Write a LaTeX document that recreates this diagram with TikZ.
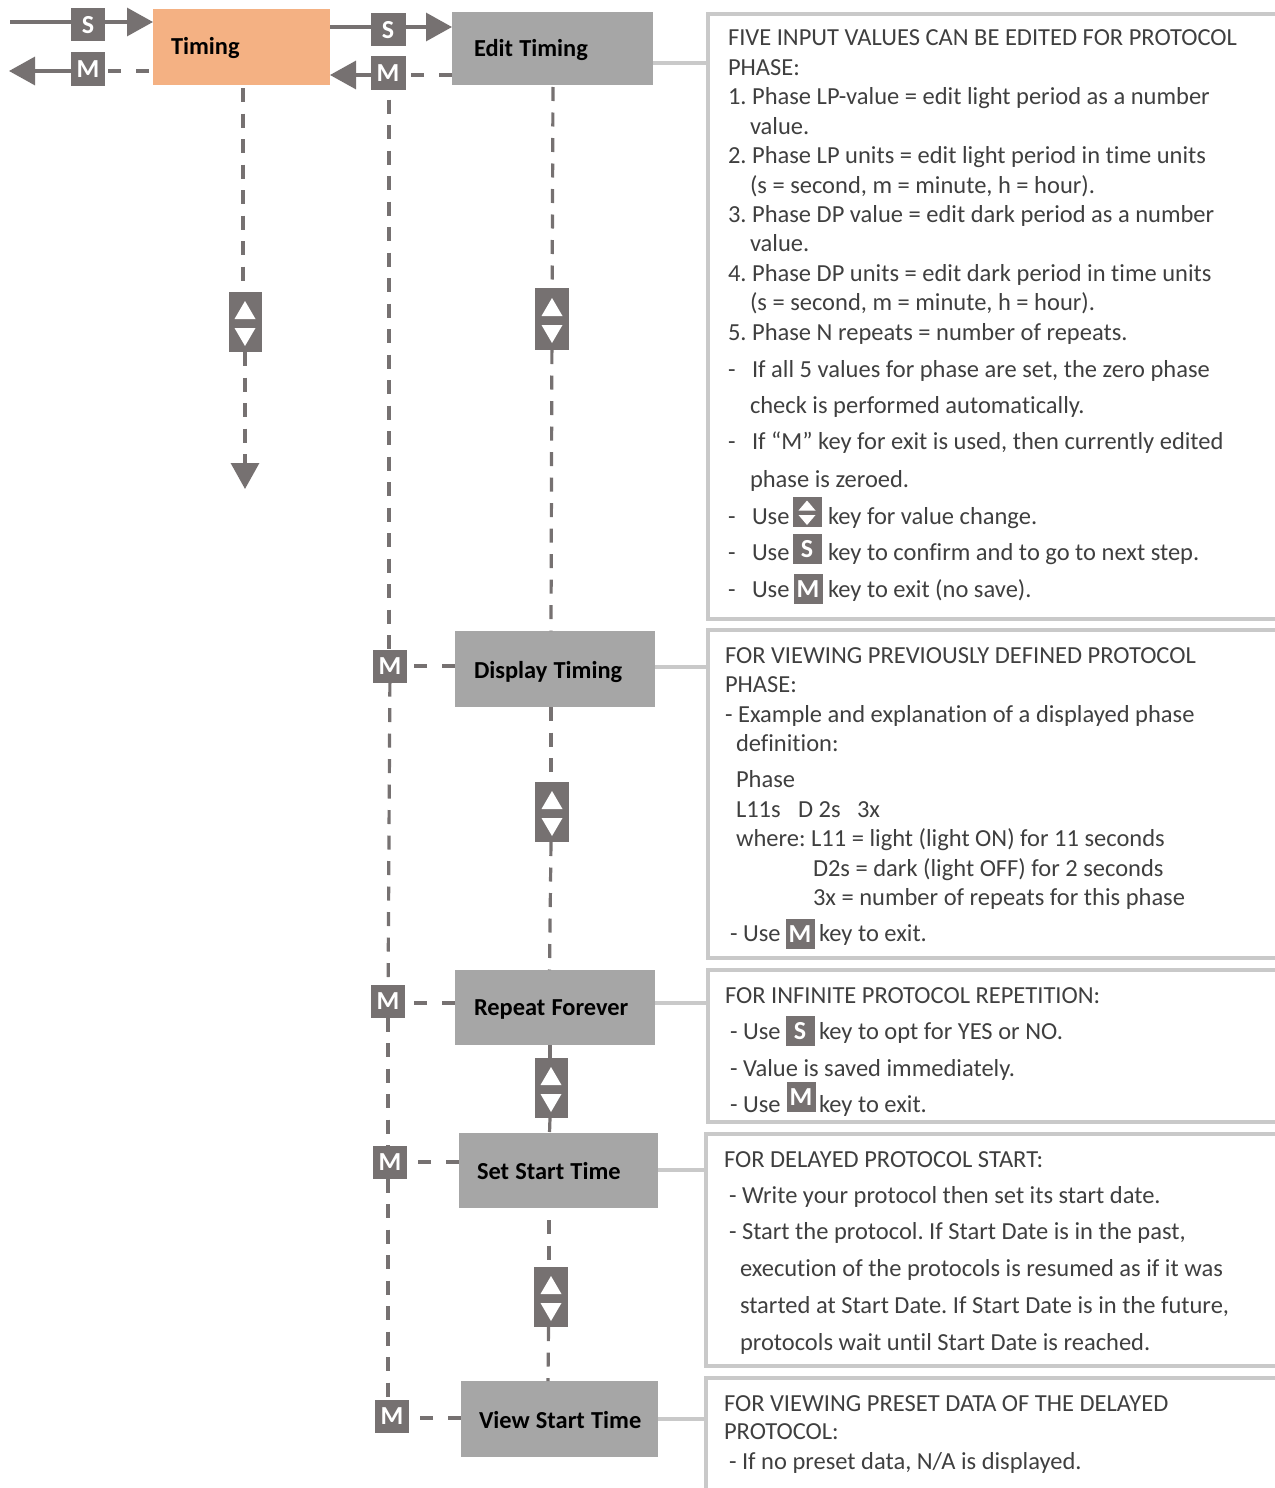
\documentclass[tikz,border=0pt]{standalone}
\usepackage{fontspec}
\setmainfont[Ligatures=NoCommon]{Carlito}
\usetikzlibrary{arrows.meta}
\definecolor{keygray}{HTML}{767171}
\definecolor{boxgray}{HTML}{A6A6A6}
\definecolor{orangebox}{HTML}{F4B183}
\definecolor{framegray}{HTML}{C9C9C9}
\definecolor{bodytext}{HTML}{3F3F3F}
\newcounter{tlc}
\newcommand{\tline}[3]{\stepcounter{tlc}\node[txt] (t\thetlc) at (#1,#2) {#3};}
\newcommand{\flowbox}[7]{\node[flowbox,fill=#6,minimum width=#4pt-#2pt,minimum height=#5pt-#3pt,text width=#4pt-#2pt] (#1) at ({(#2+#4)/2},{(#3+#5)/2}) {#7};}
\newcommand{\boxlab}[3]{\smash{\raisebox{-#1pt}{\hspace*{#2pt}\spaceskip=6.2pt\relax #3}}}
\newcommand{\udkey}[5]{\node[keybox,minimum width=#4pt,minimum height=#5pt] (#1) at (#2,#3) {};
  \fill[white] (#2-10.5,#3-3) -- (#2+10.5,#3-3) -- (#2,#3-21) -- cycle;
  \fill[white] (#2-10.5,#3+6) -- (#2+10.5,#3+6) -- (#2,#3+24) -- cycle;}
\newcommand{\smallud}[3]{\node[keybox,minimum width=29pt,minimum height=30pt] (#1) at (#2,#3) {};
  \fill[white] (#2-8.5,#3-1.5) -- (#2+8.5,#3-1.5) -- (#2,#3-11.5) -- cycle;
  \fill[white] (#2-8.5,#3+3) -- (#2+8.5,#3+3) -- (#2,#3+13) -- cycle;}
\tikzset{
  txt/.style={anchor=base west,inner sep=0pt,outer sep=0pt,text=bodytext,font=\fontsize{24.5}{28}\selectfont\frenchspacing},
  flowbox/.style={inner xsep=0pt,inner ysep=0pt,outer sep=0pt,align=left,text=black,font=\fontsize{24.4}{28}\selectfont\bfseries},
  keybox/.style={fill=keygray,inner sep=0pt,outer sep=0pt,text=white,font=\fontsize{26}{28}\selectfont\bfseries},
  keytag/.style={keybox,minimum width=34pt,minimum height=33pt},
  inkey/.style={keybox,minimum width=29pt,minimum height=30pt},
  solidline/.style={draw=keygray,line width=3.2pt},
  dashline/.style={draw=keygray,line width=3.2pt,dash pattern=on 14pt off 11.5pt},
  hdash/.style={draw=keygray,line width=3.2pt,dash pattern=on 13pt off 15pt},
  tip/.style={-{Triangle[length=26pt,width=28pt,fill=keygray]}},
  framebox/.style={draw=framegray,line width=3.5pt},
  tie/.style={draw=framegray,line width=3.5pt}
}
\begin{document}
\begin{tikzpicture}[x=1pt,y=-1pt]
\useasboundingbox (0,0) rectangle (1274,1488);
% panels
\draw[framebox] (1276,14) -| (708,619) -- (1276,619);
\draw[framebox] (1276,630) -| (708,958) -- (1276,958);
\draw[framebox] (1276,970) -| (708,1122) -- (1276,1122);
\draw[framebox] (1276,1134) -| (706,1366) -- (1276,1366);
\draw[framebox] (1276,1378) -| (706,1490);
\coordinate (f1) at (708,63);
\coordinate (f2) at (708,667);
\coordinate (f3) at (708,1003);
\coordinate (f4) at (706,1170);
\coordinate (f5) at (706,1419);
\coordinate (inS) at (10,22);
\coordinate (outM) at (9,71);
\coordinate (endT) at (245,489);
% boxes
\flowbox{timing}{153}{9}{330}{85}{orangebox}{\boxlab{8}{18}{Timing}}
\flowbox{edit}{452}{12}{653}{85}{boxgray}{\boxlab{8.5}{22}{Edit Timing}}
\flowbox{display}{455}{631}{655}{707}{boxgray}{\boxlab{9}{19}{Display Timing}}
\flowbox{repeatf}{455}{970}{655}{1045}{boxgray}{\boxlab{7.5}{19}{Repeat Forever}}
\flowbox{setst}{459}{1133}{658}{1208}{boxgray}{\boxlab{8.5}{18}{Set Start Time}}
\flowbox{viewst}{461}{1381}{658}{1457}{boxgray}{\boxlab{9}{18}{View Start Time}}
% keys
\node[keytag] (s1) at (88,25) {S};
\node[keytag] (m1) at (88,69) {M};
\node[keytag,minimum width=35pt] (s2) at (388,30) {S};
\node[keytag,minimum width=35pt] (m2) at (388,73) {M};
\node[keytag] (m3) at (390,666) {M};
\node[keytag] (m4) at (388,1001) {M};
\node[keytag] (m5) at (390,1162) {M};
\node[keytag] (m6) at (392,1416) {M};
\udkey{u1}{245}{322}{33}{60}
\udkey{u2}{552}{319}{34}{62}
\udkey{u3}{552}{812}{34}{60}
\udkey{u4}{551}{1088}{33}{60}
\udkey{u5}{551}{1297}{34}{60}
% connectors top
\draw[solidline] (inS) -- (s1.west |- inS);
\draw[solidline,tip] (s1.east |- inS) -- (timing.west |- inS);
\draw[hdash] (timing.west |- m1.east) ++(-4,2) -- (m1.east |- 0,71);
\draw[hdash] (m1.west |- outM) -- (outM -| 60,0);
\draw[solidline,tip] (60,71) -- (outM);
\draw[solidline] (timing.east |- 0,27) -- (s2.west |- 0,27);
\draw[solidline,tip] (s2.east |- 0,27) -- (edit.west |- 0,27);
\draw[hdash] (edit.west |- 0,75) -- (m2.east |- 0,75);
\draw[solidline,tip] (m2.west |- 0,75) -- (timing.east |- 0,75);
% Timing column
\draw[dashline] (243,88) -- (u1.north -| 243,0);
\draw[dashline] (u1) -- (245,462);
\draw[solidline,tip] (245,458) -- (endT);
% M column
\draw[dashline] (m2.south -| 389,0) ++(0,10) -- (m3.north -| 389,0);
\draw[dashline] (m3) -- (m4);
\draw[dashline] (m4) -- (m5.north -| m4);
\draw[dashline] (m5.south -| m4) -- (m6.north -| m4);
% main column
\draw[dashline] (553,87) -- (u2);
\draw[dashline] (u2) -- (display.north -| 551,0);
\draw[dashline] (display.south -| 551,0) -- (u3.north -| 551,0);
\draw[dashline] (u3.south -| 551,0) -- (repeatf.north -| 549.5,0);
\draw[dashline] (repeatf.south -| 550,0) -- (u4.north -| 550,0);
\draw[dashline] (u4.south -| 550,0) -- (setst.north -| 549.5,0);
\draw[dashline] (setst.south -| 549,0) ++(0,12) -- (u5.north -| 549,0);
\draw[dashline] (u5.south -| 548.5,0) -- (viewst.north -| 548,0);
% M ties
\draw[hdash] (display.west |- m3) -- (m3);
\draw[hdash] (repeatf.west |- 0,1003) -- (m4.east |- 0,1003);
\draw[hdash] (setst.west |- m5) -- (m5);
\draw[hdash] (viewst.west |- 0,1418) -- (m6.east |- 0,1418);
% panel ties
\draw[tie] (edit.east |- f1) -- (f1);
\draw[tie] (display.east |- f2) -- (f2);
\draw[tie] (repeatf.east |- f3) -- (f3);
\draw[tie] (setst.east |- f4) -- (f4);
\draw[tie] (viewst.east |- f5) -- (f5);
% panel 1
\tline{728}{46}{FIVE INPUT VALUES CAN BE EDITED FOR PROTOCOL}
\tline{728}{75}{PHASE:}
\tline{728}{104}{1. Phase LP-value = edit light period as a number}
\tline{750}{134}{value.}
\tline{728}{163}{2. Phase LP units = edit light period in time units}
\tline{750}{193}{(s = second, m = minute, h = hour).}
\tline{728}{222}{3. Phase DP value = edit dark period as a number}
\tline{750}{251}{value.}
\tline{728}{281}{4. Phase DP units = edit dark period in time units}
\tline{750}{310}{(s = second, m = minute, h = hour).}
\tline{728}{340}{5. Phase N repeats = number of repeats.}
\tline{728}{377}{-}
\tline{752}{377}{If all 5 values for phase are set, the zero phase}
\tline{750}{413}{check is performed automatically.}
\tline{728}{449}{-}
\tline{752}{449}{If “M” key for exit is used, then currently edited}
\tline{750}{487}{phase is zeroed.}
\tline{728}{524}{-}
\tline{752}{524}{Use}
\smallud{k1}{807}{512}
\tline{828}{524}{key for value change.}
\tline{728}{560}{-}
\tline{752}{560}{Use}
\node[inkey] (k2) at (807,549) {S};
\tline{828}{560}{key to confirm and to go to next step.}
\tline{728}{597}{-}
\tline{752}{597}{Use}
\node[inkey] (k3) at (808,589) {M};
\tline{828}{597}{key to exit (no save).}
% panel 2
\tline{725}{663}{FOR VIEWING PREVIOUSLY DEFINED PROTOCOL}
\tline{725}{692}{PHASE:}
\tline{725}{722}{- Example and explanation of a displayed phase}
\tline{736}{751}{definition:}
\tline{736}{787}{Phase}
\tline{736}{817}{L11s}
\tline{798}{817}{D 2s}
\tline{857}{817}{3x}
\tline{736}{846}{where: L11 = light (light ON) for 11 seconds}
\tline{813}{876}{D2s = dark (light OFF) for 2 seconds}
\tline{813}{905}{3x = number of repeats for this phase}
\tline{730}{941}{- Use}
\node[inkey] (k4) at (800,934) {M};
\tline{819}{941}{key to exit.}
% panel 3
\tline{725}{1003}{FOR INFINITE PROTOCOL REPETITION:}
\tline{730}{1039}{- Use}
\node[inkey] (k5) at (800,1031) {S};
\tline{819}{1039}{key to opt for YES or NO.}
\tline{730}{1076}{- Value is saved immediately.}
\tline{730}{1112}{- Use}
\node[inkey] (k6) at (801,1097) {M};
\tline{819}{1112}{key to exit.}
% panel 4
\tline{724}{1167}{FOR DELAYED PROTOCOL START:}
\tline{729}{1203}{- Write your protocol then set its start date.}
\tline{729}{1239}{- Start the protocol. If Start Date is in the past,}
\tline{740}{1276}{execution of the protocols is resumed as if it was}
\tline{740}{1313}{started at Start Date. If Start Date is in the future,}
\tline{740}{1350}{protocols wait until Start Date is reached.}
% panel 5
\tline{724}{1411}{FOR VIEWING PRESET DATA OF THE DELAYED}
\tline{724}{1439}{PROTOCOL:}
\tline{729}{1469}{- If no preset data, N/A is displayed.}
\end{tikzpicture}
\end{document}
